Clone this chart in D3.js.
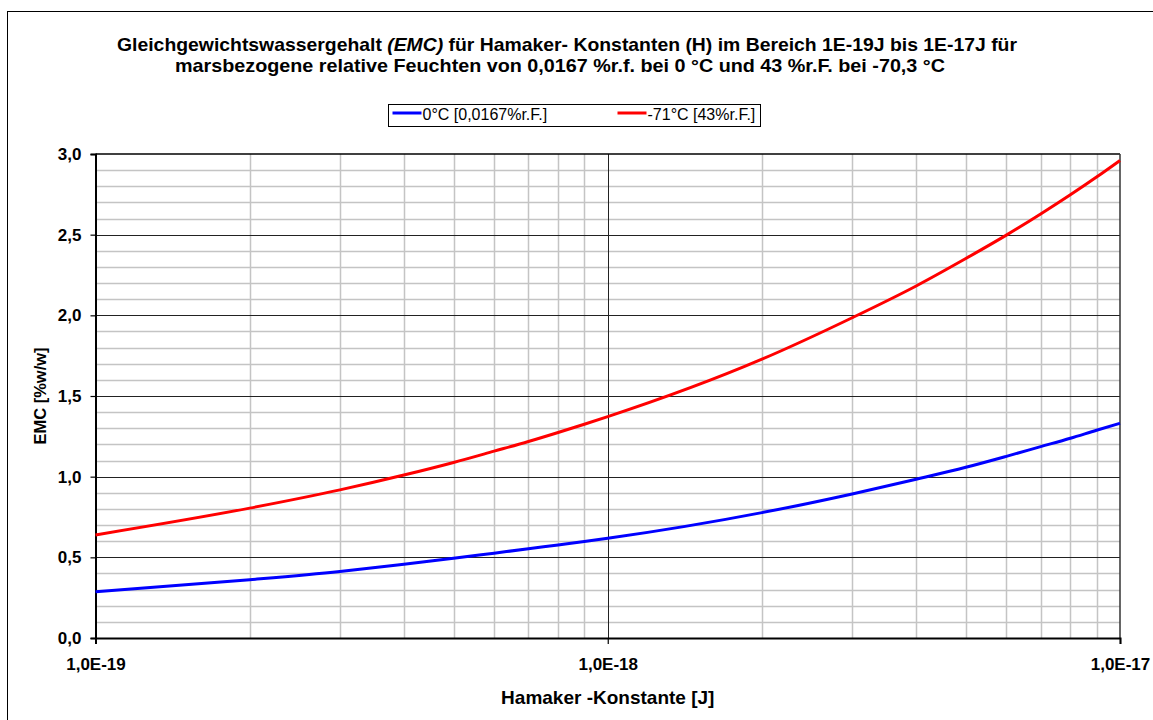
<!DOCTYPE html>
<html>
<head>
<meta charset="utf-8">
<script src="https://cdn.jsdelivr.net/npm/d3@7"></script>
<style>
  body { margin: 0; background: #fff; }
  svg { display: block; font-family: "Liberation Sans", Arial, sans-serif; }
</style>
</head>
<body>
<div id="chart"></div>
<script>
// data
var hamaker = [1e-19, 2e-19, 3e-19, 4e-19, 5e-19, 6e-19, 7e-19, 8e-19, 9e-19,
               1e-18, 2e-18, 3e-18, 4e-18, 5e-18, 6e-18, 7e-18, 8e-18, 9e-18, 1e-17];
var emc0C = [0.287, 0.361, 0.412, 0.457, 0.494, 0.526, 0.553, 0.577, 0.598,
             0.618, 0.777, 0.893, 0.984, 1.058, 1.126, 1.186, 1.238, 1.288, 1.331];
var emc71C = [0.639, 0.805, 0.918, 1.010, 1.088, 1.158, 1.218, 1.274, 1.325,
              1.372, 1.728, 1.985, 2.182, 2.352, 2.497, 2.628, 2.747, 2.857, 2.960];
var seriesNames = ["0°C [0,0167%r.F.]", "-71°C [43%r.F.]"];
var seriesColors = ["#0000ff", "#ff0000"];
var xTickValues = [1e-19, 1e-18, 1e-17];
var xTickLabels = ["1,0E-19", "1,0E-18", "1,0E-17"];
var yTickValues = [0, 0.5, 1, 1.5, 2, 2.5, 3];

var width = 1153, height = 720;
var margin = {left: 95.5, right: 33, top: 154, bottom: 82};

var svg = d3.select("#chart").append("svg")
  .attr("width", width)
  .attr("height", height);

// outer frame
svg.append("rect")
  .attr("x", 7.5).attr("y", 11.5)
  .attr("width", width + 20).attr("height", height)
  .attr("fill", "none").attr("stroke", "#000").attr("stroke-width", 1);

var x = d3.scaleLog().domain([1e-19, 1e-17]).range([margin.left, width - margin.right]);
var y = d3.scaleLinear().domain([0, 3]).range([height - margin.bottom, margin.top]);

var x0 = x.range()[0], x1 = x.range()[1], y0 = y.range()[0], y1 = y.range()[1];

// minor grid
var minorY = d3.range(0.1, 3.0, 0.1).filter(function(v) { return Math.abs(v * 2 - Math.round(v * 2)) > 0.01; });
svg.append("g").selectAll("line").data(minorY).enter().append("line")
  .attr("x1", x0).attr("x2", x1)
  .attr("y1", function(d) { return Math.round(y(d)) + 0.5; })
  .attr("y2", function(d) { return Math.round(y(d)) + 0.5; })
  .attr("stroke", "#c4c4c4").attr("stroke-width", 1.5);

var minorX = [];
[1e-19, 1e-18].forEach(function(dec) {
  for (var k = 2; k <= 9; k++) minorX.push(k * dec);
});
svg.append("g").selectAll("line").data(minorX).enter().append("line")
  .attr("y1", y0).attr("y2", y1)
  .attr("x1", function(d) { return Math.round(x(d)) + 0.5; })
  .attr("x2", function(d) { return Math.round(x(d)) + 0.5; })
  .attr("stroke", "#c4c4c4").attr("stroke-width", 1.5);

// major grid
svg.append("g").selectAll("line").data(yTickValues.slice(1, -1)).enter().append("line")
  .attr("x1", x0).attr("x2", x1)
  .attr("y1", function(d) { return Math.round(y(d)) + 0.5; })
  .attr("y2", function(d) { return Math.round(y(d)) + 0.5; })
  .attr("stroke", "#222").attr("stroke-width", 1);
svg.append("line")
  .attr("x1", Math.round(x(1e-18)) + 0.5).attr("x2", Math.round(x(1e-18)) + 0.5)
  .attr("y1", y0).attr("y2", y1)
  .attr("stroke", "#222").attr("stroke-width", 1);

// plot frame
svg.append("line").attr("x1", x0).attr("x2", x1).attr("y1", y1).attr("y2", y1)
  .attr("stroke", "#000").attr("stroke-width", 1.5);
svg.append("line").attr("x1", x1).attr("x2", x1).attr("y1", y1).attr("y2", y0)
  .attr("stroke", "#333").attr("stroke-width", 1.5);

// axes
var fmtY = function(d) { return d3.format(".1f")(d).replace(".", ","); };
var yAxis = svg.append("g")
  .attr("transform", "translate(" + x0 + ",0)")
  .call(d3.axisLeft(y).tickValues(yTickValues).tickFormat(fmtY).tickSize(5).tickPadding(9));
var xAxis = svg.append("g")
  .attr("transform", "translate(0," + y0 + ")")
  .call(d3.axisBottom(x).tickValues(xTickValues)
    .tickFormat(function(d, i) { return xTickLabels[i]; }).tickSize(6).tickPadding(14));

[yAxis, xAxis].forEach(function(a) {
  a.select(".domain").attr("stroke", "#000").attr("stroke-width", 2);
  a.selectAll(".tick line").attr("stroke", "#000").attr("stroke-width", 1.2);
  a.selectAll(".tick text")
    .attr("fill", "#000")
    .style("font-family", "'Liberation Sans', Arial, sans-serif")
    .style("font-weight", "bold");
});
yAxis.selectAll(".tick text").style("font-size", "17px");
xAxis.selectAll(".tick text").style("font-size", "17px");

// curves
var line = d3.line()
  .x(function(d) { return x(d[0]); })
  .y(function(d) { return y(d[1]); })
  .curve(d3.curveMonotoneX);

[emc0C, emc71C].forEach(function(vals, i) {
  svg.append("path")
    .datum(hamaker.map(function(h, j) { return [h, vals[j]]; }))
    .attr("d", line)
    .attr("fill", "none")
    .attr("stroke", seriesColors[i])
    .attr("stroke-width", 3);
});

// title
var title = svg.append("text")
  .attr("x", 567).attr("y", 51)
  .attr("text-anchor", "middle")
  .attr("textLength", 900).attr("lengthAdjust", "spacingAndGlyphs")
  .style("font-size", "19px").style("font-weight", "bold");
title.append("tspan").text("Gleichgewichtswassergehalt ");
title.append("tspan").style("font-style", "italic").text("(EMC)");
title.append("tspan").text(" für Hamaker- Konstanten (H) im Bereich 1E-19J bis 1E-17J für");
svg.append("text")
  .attr("x", 560).attr("y", 72)
  .attr("text-anchor", "middle")
  .attr("textLength", 770).attr("lengthAdjust", "spacingAndGlyphs")
  .style("font-size", "19px").style("font-weight", "bold")
  .text("marsbezogene relative Feuchten von 0,0167 %r.f. bei 0 °C und 43 %r.F. bei -70,3 °C");

// legend
var legend = svg.append("g").attr("transform", "translate(388.5,104.5)");
legend.append("rect").attr("width", 372).attr("height", 22)
  .attr("fill", "#fff").attr("stroke", "#000").attr("stroke-width", 1);
var legendX = [4, 229];
seriesNames.forEach(function(name, i) {
  legend.append("line")
    .attr("x1", legendX[i]).attr("x2", legendX[i] + 29)
    .attr("y1", 8.5).attr("y2", 8.5)
    .attr("stroke", seriesColors[i]).attr("stroke-width", 3);
  legend.append("text")
    .attr("x", legendX[i] + 30).attr("y", 15.5)
    .style("font-size", "16px")
    .text(name);
});

// axis titles
svg.append("text")
  .attr("x", x(1e-18)).attr("y", 704)
  .attr("text-anchor", "middle")
  .style("font-size", "19px").style("font-weight", "bold")
  .text("Hamaker -Konstante [J]");
svg.append("text")
  .attr("transform", "translate(46," + y(1.5) + ") rotate(-90)")
  .attr("text-anchor", "middle")
  .style("font-size", "16.5px").style("font-weight", "bold")
  .text("EMC [%w/w]");
</script>
</body>
</html>
